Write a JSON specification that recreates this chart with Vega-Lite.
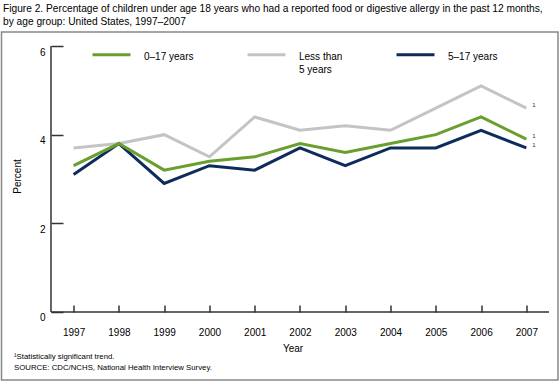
{
  "$schema": "https://vega.github.io/schema/vega-lite/v6.json",
  "width": 556.5,
  "height": 348,
  "autosize": {"type": "none"},
  "padding": {"left": 1.5, "top": 32, "right": 2, "bottom": 3},
  "title": {
    "text": ["Figure 2. Percentage of children under age 18 years who had a reported food or digestive allergy in the past 12 months,", "by age group: United States, 1997–2007"],
    "anchor": "start",
    "frame": "group",
    "font": "Liberation Sans",
    "fontSize": 10.2,
    "fontWeight": "normal",
    "color": "#000000",
    "lineHeight": 12.5,
    "offset": 4,
    "dx": 1.5
  },
  "config": {
    "font": "Liberation Sans",
    "view": {"stroke": "#888888", "strokeWidth": 1.5}
  },
  "datasets": {
    "series": [
      {"year": 1997, "group": "Less than 5 years", "value": 3.7},
      {"year": 1998, "group": "Less than 5 years", "value": 3.8},
      {"year": 1999, "group": "Less than 5 years", "value": 4.0},
      {"year": 2000, "group": "Less than 5 years", "value": 3.5},
      {"year": 2001, "group": "Less than 5 years", "value": 4.4},
      {"year": 2002, "group": "Less than 5 years", "value": 4.1},
      {"year": 2003, "group": "Less than 5 years", "value": 4.2},
      {"year": 2004, "group": "Less than 5 years", "value": 4.1},
      {"year": 2005, "group": "Less than 5 years", "value": 4.6},
      {"year": 2006, "group": "Less than 5 years", "value": 5.1},
      {"year": 2007, "group": "Less than 5 years", "value": 4.6, "note": "1"},
      {"year": 1997, "group": "5–17 years", "value": 3.1},
      {"year": 1998, "group": "5–17 years", "value": 3.8},
      {"year": 1999, "group": "5–17 years", "value": 2.9},
      {"year": 2000, "group": "5–17 years", "value": 3.3},
      {"year": 2001, "group": "5–17 years", "value": 3.2},
      {"year": 2002, "group": "5–17 years", "value": 3.7},
      {"year": 2003, "group": "5–17 years", "value": 3.3},
      {"year": 2004, "group": "5–17 years", "value": 3.7},
      {"year": 2005, "group": "5–17 years", "value": 3.7},
      {"year": 2006, "group": "5–17 years", "value": 4.1},
      {"year": 2007, "group": "5–17 years", "value": 3.7, "note": "1"},
      {"year": 1997, "group": "0–17 years", "value": 3.3},
      {"year": 1998, "group": "0–17 years", "value": 3.8},
      {"year": 1999, "group": "0–17 years", "value": 3.2},
      {"year": 2000, "group": "0–17 years", "value": 3.4},
      {"year": 2001, "group": "0–17 years", "value": 3.5},
      {"year": 2002, "group": "0–17 years", "value": 3.8},
      {"year": 2003, "group": "0–17 years", "value": 3.6},
      {"year": 2004, "group": "0–17 years", "value": 3.8},
      {"year": 2005, "group": "0–17 years", "value": 4.0},
      {"year": 2006, "group": "0–17 years", "value": 4.4},
      {"year": 2007, "group": "0–17 years", "value": 3.9, "note": "1"}
    ]
  },
  "layer": [
    {
      "data": {"name": "series"},
      "mark": {"type": "line", "strokeWidth": 3},
      "encoding": {
        "x": {
          "field": "year",
          "type": "quantitative",
          "scale": {"domain": [1995.407, 2007.699], "nice": false, "zero": false},
          "axis": {
            "orient": "bottom",
            "offset": -68,
            "values": [1997, 1998, 1999, 2000, 2001, 2002, 2003, 2004, 2005, 2006, 2007],
            "format": "d",
            "domain": false,
            "grid": false,
            "tickSize": -7,
            "tickColor": "#333333",
            "tickWidth": 1.5,
            "labelPadding": 22,
            "labelFontSize": 10,
            "labelColor": "#000000",
            "labelFlush": false,
            "labelOverlap": false,
            "title": "Year",
            "titleFontSize": 10,
            "titleFontWeight": "normal",
            "titleColor": "#000000",
            "titleX": 291,
            "titleY": 36,
            "titleAlign": "center",
            "titleBaseline": "middle"
          }
        },
        "y": {
          "field": "value",
          "type": "quantitative",
          "scale": {"domain": [-1.534, 6.316], "nice": false, "zero": false},
          "axis": {
            "orient": "left",
            "offset": -49.5,
            "values": [0, 2, 4, 6],
            "domain": false,
            "grid": false,
            "tickSize": -12,
            "tickColor": "#333333",
            "tickWidth": 1.5,
            "labelPadding": 18,
            "labelOffset": 6,
            "labelFontSize": 10,
            "labelColor": "#000000",
            "labelOverlap": false,
            "title": "Percent",
            "titleFontSize": 10,
            "titleFontWeight": "normal",
            "titleColor": "#000000",
            "titleX": -33.5,
            "titleY": 144,
            "titleAlign": "center",
            "titleBaseline": "middle"
          }
        },
        "color": {
          "field": "group",
          "type": "nominal",
          "scale": {
            "domain": ["0–17 years", "Less than 5 years", "5–17 years"],
            "range": ["#6a9e2f", "#c4c4c4", "#0d2c5c"]
          },
          "legend": {
            "orient": "none",
            "legendX": 89.5,
            "legendY": -1,
            "direction": "horizontal",
            "title": null,
            "symbolType": "M-1,0.158L1,0.158",
            "symbolSize": 1444,
            "symbolStrokeWidth": 3,
            "labelOffset": 12,
            "columnPadding": 47,
            "labelFontSize": 10,
            "labelColor": "#000000",
            "labelBaseline": "top",
            "labelExpr": "datum.label == 'Less than 5 years' ? ['Less than', '5 years'] : [datum.label, '']",
            "encode": {"labels": {"update": {"lineHeight": {"value": 13}}}}
          }
        }
      }
    },
    {
      "data": {"name": "series"},
      "transform": [{"filter": "datum.note"}],
      "mark": {"type": "text", "fontSize": 6, "dx": 6, "dy": -3, "align": "left", "color": "#333333"},
      "encoding": {
        "x": {"field": "year", "type": "quantitative"},
        "y": {"field": "value", "type": "quantitative"},
        "text": {"field": "note"}
      }
    },
    {
      "data": {"values": [{}]},
      "mark": {"type": "rule", "color": "#333333", "strokeWidth": 1.5},
      "encoding": {
        "x": {"datum": 1996.5, "type": "quantitative"},
        "y": {"datum": 0, "type": "quantitative"},
        "y2": {"datum": 6}
      }
    },
    {
      "data": {"values": [{}]},
      "mark": {"type": "rule", "color": "#333333", "strokeWidth": 1.5},
      "encoding": {
        "x": {"datum": 1996.5, "type": "quantitative"},
        "x2": {"datum": 2007.5},
        "y": {"datum": 0, "type": "quantitative"}
      }
    },
    {
      "data": {"values": [{}]},
      "mark": {
        "type": "text",
        "text": ["¹Statistically significant trend.", "SOURCE: CDC/NCHS, National Health Interview Survey."],
        "fontSize": 7.8,
        "lineHeight": 11.5,
        "align": "left",
        "baseline": "middle",
        "color": "#000000"
      },
      "encoding": {
        "x": {"datum": 1995.683, "type": "quantitative"},
        "y": {"datum": -1.008, "type": "quantitative"}
      }
    }
  ]
}
